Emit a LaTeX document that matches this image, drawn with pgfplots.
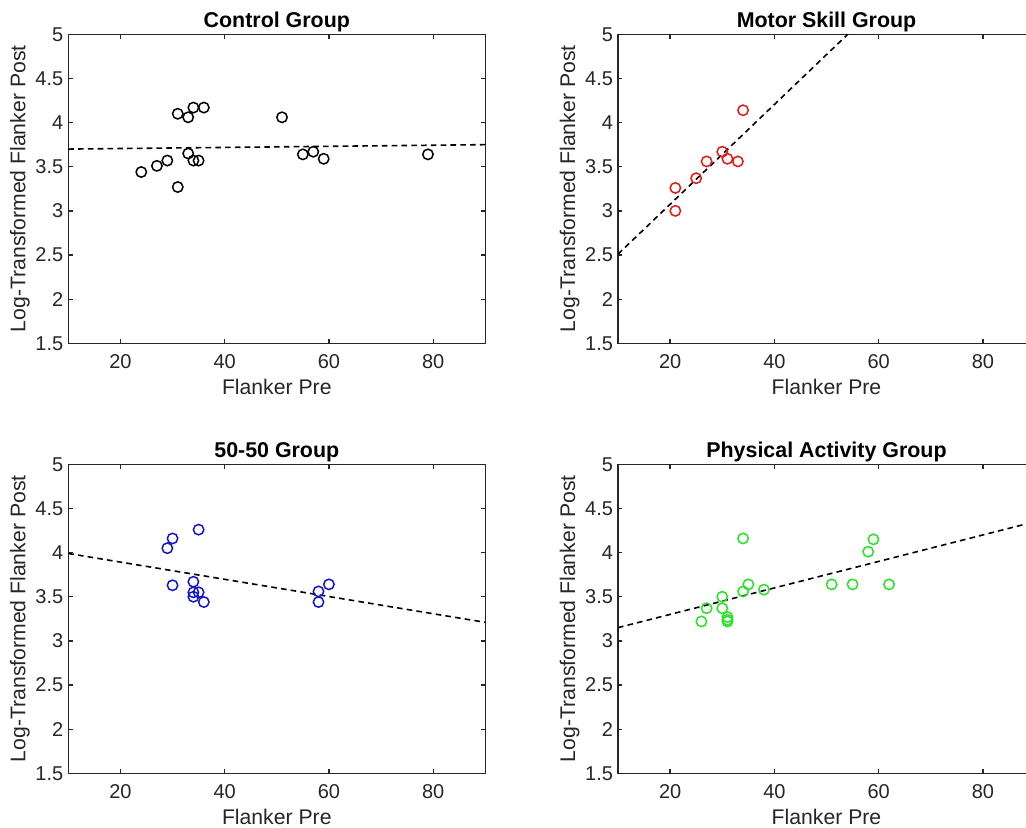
\documentclass[border=0pt]{standalone}
\usepackage{fontspec}
\setmainfont{Liberation Sans}
\usepackage{pgfplots}
\pgfplotsset{compat=1.18}
\definecolor{axgray}{gray}{0.15}
\definecolor{mred}{RGB}{225,25,25}
\definecolor{mblue}{RGB}{20,20,205}
\definecolor{mgreen}{RGB}{40,225,40}
\pgfplotsset{
  panel/.style={
    scale only axis, width=208.5pt, height=154.5pt,
    anchor=south west,
    xmin=10, xmax=90, ymin=1.5, ymax=5,
    xtick={20,40,60,80}, ytick={1.5,2,2.5,3,3.5,4,4.5,5},
    tick align=inside, major tick length=2.2pt,
    xtick pos=both, ytick pos=both,
    axis line style={axgray, line width=0.65pt},
    every tick/.style={axgray, line width=0.65pt},
    /pgf/number format/assume math mode=true,
    tick label style={font=\fontsize{10}{11}\selectfont, text=axgray},
    xticklabel style={inner sep=2pt, yshift=-3.3pt},
    yticklabel style={inner sep=2.3pt},
    xlabel={Flanker Pre},
    ylabel={Log-Transformed Flanker Post},
    label style={font=\fontsize{10.6}{12}\selectfont, text=axgray},
    xlabel style={at={(axis description cs:0.5,-0.165)}, anchor=base},
    ylabel style={at={(axis description cs:-0.103,0.5)}, anchor=base, rotate=0},
    every axis title/.style={font=\fontsize{10.7}{12}\selectfont\bfseries, at={(axis description cs:0.5,1)}, anchor=base, yshift=3.5pt},
    clip=true,
  },
  pts/.style={only marks, mark=o, mark size=2.6pt, mark options={line width=0.75pt}},
  fit/.style={black, dashed, line width=0.8pt, dash pattern=on 2.8pt off 2.1pt, no marks},
}
\begin{document}
\begin{tikzpicture}
\path[use as bounding box] (0,0) rectangle (513pt,413.5pt);

\begin{axis}[panel, at={(34.15pt,241.85pt)}, title={Control Group}]
\addplot[pts, draw=black] coordinates {
(24,3.44)(27,3.51)(29,3.57)(31,4.10)(33,4.06)(34,4.17)(36,4.17)(33,3.65)
(34,3.57)(35,3.57)(31,3.27)(51,4.06)(55,3.64)(57,3.67)(59,3.59)(79,3.64)};
\addplot[fit] coordinates {(10,3.70)(90,3.75)};
\end{axis}

\begin{axis}[panel, at={(309pt,241.85pt)}, title={Motor Skill Group}]
\addplot[pts, draw=mred] coordinates {
(21,3.26)(21,3.00)(25,3.37)(27,3.56)(30,3.67)(31,3.59)(33,3.56)(34,4.14)};
\addplot[fit] coordinates {(10,2.51)(90,7.03)};
\end{axis}

\begin{axis}[panel, at={(34.15pt,26.85pt)}, title={50-50 Group}]
\addplot[pts, draw=mblue] coordinates {
(29,4.05)(30,4.16)(35,4.26)(30,3.63)(34,3.67)(34,3.55)(34,3.50)(35,3.55)
(36,3.44)(58,3.56)(58,3.44)(60,3.64)};
\addplot[fit] coordinates {(10,3.99)(90,3.21)};
\end{axis}

\begin{axis}[panel, at={(309pt,26.85pt)}, title={Physical Activity Group}]
\addplot[pts, draw=mgreen] coordinates {
(26,3.22)(27,3.37)(30,3.50)(30,3.37)(31,3.27)(31,3.24)(31,3.22)(34,4.16)(34,3.56)
(35,3.64)(38,3.58)(51,3.64)(55,3.64)(58,4.01)(59,4.15)(62,3.64)};
\addplot[fit] coordinates {(10,3.15)(90,4.35)};
\end{axis}
\end{tikzpicture}
\end{document}
